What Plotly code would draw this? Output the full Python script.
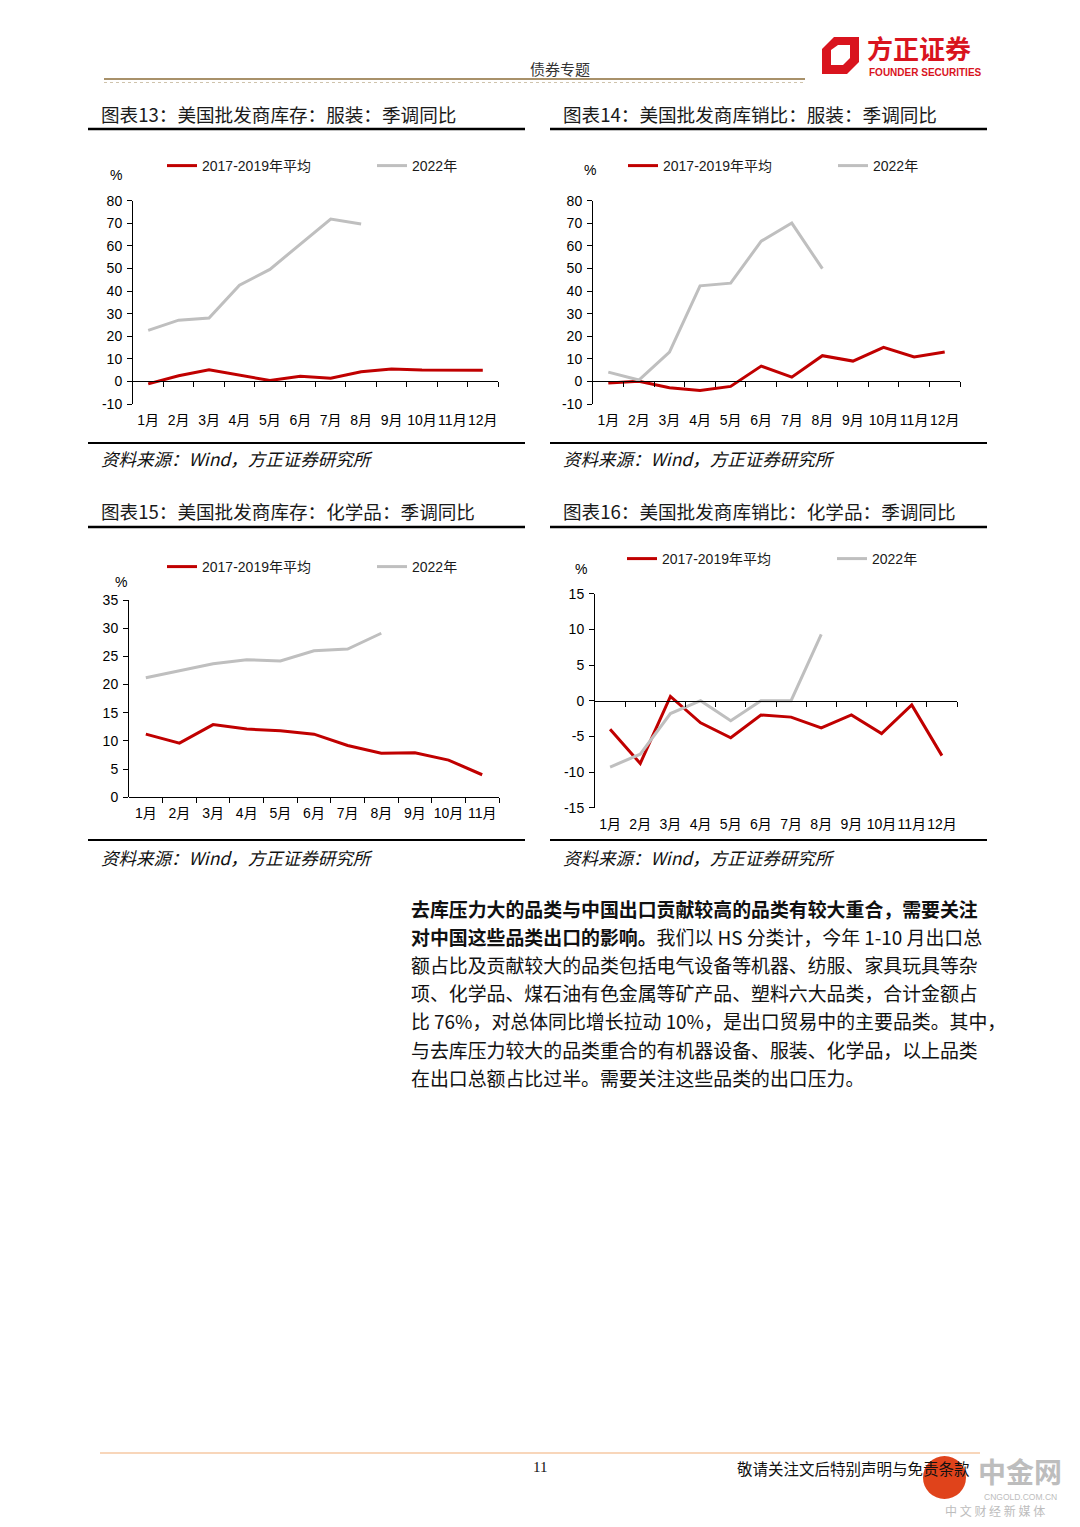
import plotly.graph_objects as go

W, H = 1080, 1527
# the page body has an 8px default margin; positions below are page pixels
OX, OY = 8, 8

# ---------------- data ----------------
months12 = ["1月", "2月", "3月", "4月", "5月", "6月", "7月", "8月", "9月", "10月", "11月", "12月"]
months11 = months12[:11]

c13_avg = [-1.1, 2.5, 5.2, 2.8, 0.4, 2.3, 1.4, 4.3, 5.5, 5.0, 4.8, 4.9]
c13_2022 = [22.6, 27.1, 28.1, 42.6, 49.6, 60.7, 71.9, 69.7]

c14_avg = [-0.7, 0.1, -2.8, -4.0, -2.2, 6.8, 1.9, 11.4, 9.0, 15.1, 10.8, 13.0]
c14_2022 = [4.1, 0.6, 13.0, 42.3, 43.5, 62.1, 70.1, 49.9]

c15_avg = [11.2, 9.6, 12.9, 12.1, 11.8, 11.2, 9.2, 7.8, 7.9, 6.6, 4.0]
c15_2022 = [21.2, 22.5, 23.7, 24.4, 24.2, 26.0, 26.3, 29.1]

c16_avg = [-4.0, -8.8, 0.6, -3.1, -5.2, -2.0, -2.3, -3.8, -2.0, -4.6, -0.6, -7.7]
c16_2022 = [-9.3, -7.5, -1.8, 0.0, -2.8, 0.0, 0.0, 9.3]

series_names = ["2017-2019年平均", "2022年"]

titles = [
    "图表13：美国批发商库存：服装：季调同比",
    "图表14：美国批发商库销比：服装：季调同比",
    "图表15：美国批发商库存：化学品：季调同比",
    "图表16：美国批发商库销比：化学品：季调同比",
]
source_text = "资料来源：Wind，方正证券研究所"

y_ranges = [(-10, 80, 10), (-10, 80, 10), (0, 35, 5), (-15, 15, 5)]

body_lines = [
    "<b>去库压力大的品类与中国出口贡献较高的品类有较大重合，需要关注</b>",
    "<b>对中国这些品类出口的影响。</b>我们以 HS 分类计，今年 1-10 月出口总",
    "额占比及贡献较大的品类包括电气设备等机器、纺服、家具玩具等杂",
    "项、化学品、煤石油有色金属等矿产品、塑料六大品类，合计金额占",
    "比 76%，对总体同比增长拉动 10%，是出口贸易中的主要品类。其中，",
    "与去库压力较大的品类重合的有机器设备、服装、化学品，以上品类",
    "在出口总额占比过半。需要关注这些品类的出口压力。",
]

# ---------------- styling ----------------
RED = "#C00000"
GRAY = "#BFBFBF"
FONT = "Arial, 'Liberation Sans', 'Noto Sans CJK SC', sans-serif"
CJK = "'Noto Sans CJK SC', sans-serif"


def fx(px):
    return (px - OX) / W


def fy(py):
    return 1 - (py - OY) / H


def tick_text(v):
    # plain hyphen-minus as in the reference
    return str(int(v)) if v >= 0 else "-" + str(int(-v))


charts = [
    dict(cats=months12, avg=c13_avg, y22=c13_2022, box=(133, 498, 200.7, 404),
         legend=(162, 166), pct=(116, 175), title=(100, 113), frame=(88, 525, 129, 443), src=459),
    dict(cats=months12, avg=c14_avg, y22=c14_2022, box=(593, 960, 200.7, 404),
         legend=(623, 166), pct=(590, 170), title=(562, 113), frame=(550, 987, 129, 443), src=459),
    dict(cats=months11, avg=c15_avg, y22=c15_2022, box=(129, 499, 600, 797.3),
         legend=(162, 567), pct=(121, 582), title=(100, 510), frame=(88, 525, 527, 840), src=857),
    dict(cats=months12, avg=c16_avg, y22=c16_2022, box=(595, 957, 593.7, 807.7),
         legend=(622, 559), pct=(581, 569), title=(562, 510), frame=(550, 987, 527, 840), src=857),
]

fig = go.Figure()
layout = dict(
    width=W, height=H, autosize=False,
    margin=dict(l=0, r=0, t=0, b=0, pad=0, autoexpand=False),
    paper_bgcolor="white", plot_bgcolor="rgba(0,0,0,0)",
    font=dict(family=FONT, size=14, color="#000000"),
    showlegend=True,
)
shapes = []
annotations = []

for i, c in enumerate(charts):
    n = i + 1
    sfx = "" if n == 1 else str(n)
    bsfx = str(n + 4)
    xa, ya, xb = "x" + sfx, "y" + sfx, "x" + bsfx
    leg = "legend" + sfx
    l, r, t, b = c["box"]
    ymin, ymax, dt = y_ranges[i]
    ydom = [fy(b), fy(t)]
    xdom = [fx(l), fx(r)]

    fig.add_trace(go.Scatter(x=c["cats"], y=c["avg"], name=series_names[0], mode="lines",
                             line=dict(color=RED, width=3), xaxis=xa, yaxis=ya, legend=leg,
                             hoverinfo="skip"))
    fig.add_trace(go.Scatter(x=c["cats"][:len(c["y22"])], y=c["y22"], name=series_names[1], mode="lines",
                             line=dict(color=GRAY, width=3), xaxis=xa, yaxis=ya, legend=leg,
                             hoverinfo="skip"))
    # empty trace to hold the baseline axis
    fig.add_trace(go.Scatter(x=[None], y=[None], xaxis=xb, yaxis=ya, showlegend=False,
                             hoverinfo="skip", mode="lines"))

    ncat = len(c["cats"])
    zero_pos = ydom[0] + (0 - ymin) / (ymax - ymin) * (ydom[1] - ydom[0])
    yt = list(range(ymin, ymax + 1, dt))

    layout["xaxis" + sfx] = dict(domain=xdom, anchor=ya, type="category",
                                 range=[-0.5, ncat - 0.5], showline=False, showgrid=False,
                                 zeroline=False, ticks="", tickfont=dict(size=14),
                                 tickangle=0, ticklabelstandoff=6, fixedrange=True)
    layout["yaxis" + sfx] = dict(domain=ydom, anchor=xa, range=[ymin, ymax],
                                 tickmode="array", tickvals=yt, ticktext=[tick_text(v) for v in yt],
                                 showline=True, linecolor="#000000", linewidth=1,
                                 ticks="outside", ticklen=5, tickcolor="#000000", tickwidth=1,
                                 showgrid=False, zeroline=False, tickfont=dict(size=14),
                                 ticklabelstandoff=2, fixedrange=True)
    layout["xaxis" + bsfx] = dict(overlaying=xa, anchor="free", position=zero_pos,
                                  type="linear", range=[-0.5, ncat - 0.5],
                                  tickmode="array", tickvals=[k + 0.5 for k in range(ncat)],
                                  showticklabels=False, showline=True, linecolor="#000000",
                                  linewidth=1, ticks="outside", ticklen=5, tickcolor="#000000",
                                  showgrid=False, zeroline=False, fixedrange=True)
    lx, lyy = c["legend"]
    layout[leg] = dict(orientation="h", x=fx(lx), y=fy(lyy), xanchor="left", yanchor="middle",
                       entrywidth=165, entrywidthmode="pixels", bgcolor="rgba(0,0,0,0)",
                       font=dict(size=14, family=FONT, color="#1a1a1a"), itemwidth=30,
                       tracegroupgap=0)

    px_, py_ = c["pct"]
    annotations.append(dict(text="%", x=fx(px_), y=fy(py_), xref="paper", yref="paper",
                            showarrow=False, xanchor="center", yanchor="middle",
                            font=dict(size=14, family=FONT)))
    tx, ty = c["title"]
    annotations.append(dict(text=titles[i], x=fx(tx - 1), y=fy(ty), xref="paper", yref="paper",
                            showarrow=False, xanchor="left", yanchor="middle",
                            font=dict(size=18.6, family=CJK, color="#1a1a1a")))
    annotations.append(dict(text=source_text, x=fx(tx - 1), y=fy(c["src"]), xref="paper", yref="paper",
                            showarrow=False, xanchor="left", yanchor="middle",
                            font=dict(size=17.5, family=CJK, color="#111111", style="italic")))
    fl, fr, ft, fb = c["frame"]
    shapes.append(dict(type="line", xref="paper", yref="paper", x0=fx(fl), x1=fx(fr),
                       y0=fy(ft), y1=fy(ft), line=dict(color="#000000", width=2.5)))
    shapes.append(dict(type="line", xref="paper", yref="paper", x0=fx(fl), x1=fx(fr),
                       y0=fy(fb), y1=fy(fb), line=dict(color="#000000", width=2)))

# ---------------- header ----------------
annotations.append(dict(text="债券专题", x=fx(560), y=fy(69), xref="paper", yref="paper",
                        showarrow=False, xanchor="center", yanchor="middle",
                        font=dict(size=15, family=CJK, color="#333333")))
shapes.append(dict(type="line", xref="paper", yref="paper", x0=fx(104), x1=fx(805),
                   y0=fy(79), y1=fy(79), line=dict(color="#A8916A", width=2)))
shapes.append(dict(type="line", xref="paper", yref="paper", x0=fx(104), x1=fx(805),
                   y0=fy(82.5), y1=fy(82.5), line=dict(color="#CFC3AC", width=1, dash="dot")))


def path_px(points):
    s = ""
    for k, (px, py) in enumerate(points):
        s += ("M" if k == 0 else "L") + f"{fx(px):.5f},{fy(py):.5f} "
    return s + "Z"


shapes.append(dict(type="path", xref="paper", yref="paper",
                   path=path_px([(822, 49), (834, 37), (859, 37), (859, 62), (847, 74), (822, 74)]),
                   fillcolor="#D9141E", line=dict(width=0)))
shapes.append(dict(type="path", xref="paper", yref="paper",
                   path=path_px([(831, 50), (838, 45), (850, 45), (850, 58), (843, 65), (831, 65)]),
                   fillcolor="white", line=dict(width=0)))
annotations.append(dict(text="<b>方正证券</b>", x=fx(865), y=fy(47), xref="paper", yref="paper",
                        showarrow=False, xanchor="left", yanchor="middle",
                        font=dict(size=26, family=CJK, color="#D9141E")))
annotations.append(dict(text="<b>FOUNDER SECURITIES</b>", x=fx(867), y=fy(72), xref="paper", yref="paper",
                        showarrow=False, xanchor="left", yanchor="middle",
                        font=dict(size=10, family="'Liberation Sans', Arial", color="#D9141E")))

# ---------------- body text ----------------
for k, line in enumerate(body_lines):
    annotations.append(dict(text=line, x=fx(409), y=fy(908 + k * 28.2), xref="paper", yref="paper",
                            showarrow=False, xanchor="left", yanchor="middle",
                            font=dict(size=18.9, family=CJK, color="#111111")))

# ---------------- footer ----------------
shapes.append(dict(type="line", xref="paper", yref="paper", x0=fx(100), x1=fx(980),
                   y0=fy(1453), y1=fy(1453), line=dict(color="#F6C9A3", width=1.5)))
annotations.append(dict(text="11", x=fx(540), y=fy(1467), xref="paper", yref="paper",
                        showarrow=False, xanchor="center", yanchor="middle",
                        font=dict(size=15, family="'Liberation Serif', serif", color="#111111")))
annotations.append(dict(text="敬请关注文后特别声明与免责条款", x=fx(735), y=fy(1468), xref="paper", yref="paper",
                        showarrow=False, xanchor="left", yanchor="middle",
                        font=dict(size=15.5, family=CJK, color="#111111")))
# watermark
shapes.append(dict(type="circle", xref="paper", yref="paper", x0=fx(923), x1=fx(966),
                   y0=fy(1499), y1=fy(1456), fillcolor="#E0431B", line=dict(width=0), layer="above"))
annotations.append(dict(text="<b>中金网</b>", x=fx(1020), y=fy(1471), xref="paper", yref="paper",
                        showarrow=False, xanchor="center", yanchor="middle",
                        font=dict(size=28, family=CJK, color="#BDBDBD")))
annotations.append(dict(text="CNGOLD.COM.CN", x=fx(1020), y=fy(1497), xref="paper", yref="paper",
                        showarrow=False, xanchor="center", yanchor="middle",
                        font=dict(size=8.5, family="'Liberation Sans', Arial", color="#BDBDBD")))
annotations.append(dict(text="中 文 财 经 新 媒 体", x=fx(995), y=fy(1510), xref="paper", yref="paper",
                        showarrow=False, xanchor="center", yanchor="middle",
                        font=dict(size=12, family=CJK, color="#BDBDBD")))

layout["shapes"] = shapes
layout["annotations"] = annotations
fig.update_layout(**layout)

fig.write_html("out.html", config={"displayModeBar": False, "staticPlot": True})
